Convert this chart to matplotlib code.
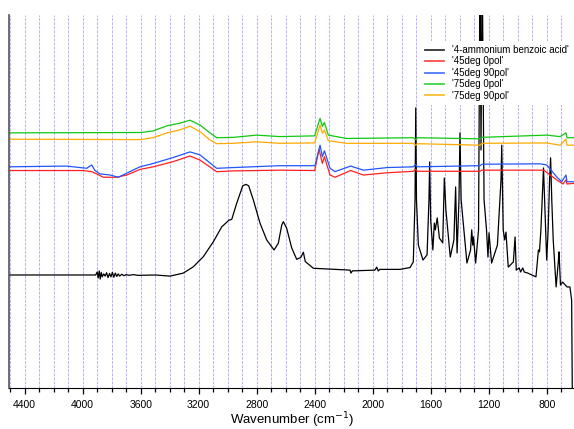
import numpy as np
import matplotlib
matplotlib.use("Agg")
import matplotlib.pyplot as plt
from matplotlib.ticker import MultipleLocator

plt.rcParams['font.family'] = ['Liberation Sans', 'DejaVu Sans']

# 4-ammonium benzoic acid reference spectrum (wavenumber, absorbance a.u.)
ref_wn = [4510, 3920, 3910, 3900, 3893, 3886, 3879, 3872, 3865, 3855, 3845, 3835,
          3825, 3815, 3805, 3795, 3785, 3775, 3765, 3755, 3745, 3730, 3715, 3700,
          3680, 3650, 3620, 3500, 3398, 3306, 3237, 3168, 3099, 3041, 2991, 2972,
          2938, 2896, 2874, 2855, 2823, 2777, 2731, 2680, 2651, 2627, 2616, 2593,
          2558, 2524, 2496, 2478, 2465, 2409, 2156, 2150, 2140, 1985, 1972, 1962,
          1950, 1812, 1742, 1720, 1708, 1703, 1698, 1685, 1653, 1625, 1612, 1607,
          1600, 1585, 1575, 1568, 1555, 1540, 1517, 1506, 1495, 1465, 1440, 1428,
          1418, 1405, 1398, 1390, 1350, 1325, 1317, 1310, 1305, 1290, 1270, 1260,
          1253, 1245, 1232, 1215, 1205, 1198, 1180, 1140, 1115, 1110, 1100, 1090,
          1081, 1065, 1030, 1018, 1010, 990, 980, 965, 955, 930, 874, 857, 850,
          840, 822, 812, 800, 790, 780, 773, 765, 755, 735, 720, 715, 705, 690,
          660, 640, 628, 622, 600]
ref_abs = [0.303, 0.303, 0.303, 0.311, 0.295, 0.314, 0.292, 0.310, 0.298, 0.306, 0.300, 0.309,
           0.296, 0.307, 0.298, 0.310, 0.297, 0.308, 0.299, 0.306, 0.300, 0.305, 0.301, 0.304,
           0.302, 0.304, 0.302, 0.303, 0.300, 0.308, 0.325, 0.352, 0.392, 0.432, 0.450, 0.452,
           0.495, 0.542, 0.546, 0.542, 0.504, 0.442, 0.397, 0.370, 0.388, 0.437, 0.446, 0.428,
           0.375, 0.345, 0.350, 0.364, 0.339, 0.321, 0.316, 0.308, 0.314, 0.316, 0.324, 0.314,
           0.318, 0.318, 0.323, 0.338, 0.504, 0.751, 0.504, 0.383, 0.343, 0.357, 0.504, 0.606,
           0.450, 0.370, 0.442, 0.424, 0.456, 0.402, 0.389, 0.563, 0.477, 0.351, 0.397, 0.539,
           0.362, 0.504, 0.684, 0.504, 0.335, 0.370, 0.424, 0.383, 0.405, 0.335, 0.424, 1.15,
           0.638, 1.15, 0.504, 0.424, 0.351, 0.416, 0.335, 0.383, 0.558, 0.651, 0.424, 0.397,
           0.418, 0.324, 0.338, 0.405, 0.316, 0.322, 0.311, 0.322, 0.311, 0.308, 0.298, 0.370, 0.365,
           0.424, 0.590, 0.477, 0.343, 0.424, 0.558, 0.617, 0.504, 0.397, 0.271, 0.338, 0.365, 0.276, 0.284,
           0.271, 0.271, 0.236, -0.09, -0.2]

# polarised film spectra, offset for display
wn_45_0 = [4510, 3996, 3938, 3903, 3858, 3765, 3696, 3605, 3513, 3375, 3260, 3191, 3076,
           2960, 2640, 2400, 2370, 2347, 2333, 2294, 2260, 2152, 2064, 1900, 1720, 1705,
           1690, 1260, 1245, 820, 731, 687, 667, 660, 600]
abs_45_0 = [0.583, 0.583, 0.580, 0.574, 0.565, 0.565, 0.571, 0.586, 0.593, 0.607, 0.622, 0.611, 0.580,
            0.582, 0.584, 0.583, 0.640, 0.602, 0.620, 0.571, 0.565, 0.583, 0.571, 0.577, 0.581, 0.586,
            0.581, 0.581, 0.584, 0.584, 0.558, 0.547, 0.558, 0.547, 0.549]

wn_45_90 = [4510, 4110, 3972, 3938, 3915, 3880, 3811, 3754, 3696, 3605, 3513, 3375, 3260,
            3191, 3076, 2960, 2640, 2398, 2363, 2347, 2333, 2294, 2260, 2152, 2064, 1900,
            1720, 1705, 1690, 1260, 1245, 846, 800, 731, 697, 667, 660, 600]
abs_45_90 = [0.593, 0.595, 0.589, 0.598, 0.583, 0.574, 0.571, 0.565, 0.576, 0.593, 0.602, 0.618, 0.633,
             0.625, 0.589, 0.591, 0.596, 0.596, 0.651, 0.620, 0.636, 0.589, 0.580, 0.595, 0.584, 0.591,
             0.593, 0.599, 0.593, 0.596, 0.600, 0.601, 0.598, 0.566, 0.553, 0.571, 0.553, 0.553]

wn_75 = [4510, 3600, 3515, 3418, 3329, 3260, 3191, 3122, 3076, 2960, 2800, 2640, 2400,
         2363, 2347, 2333, 2306, 2180, 1720, 1703, 1690, 1260, 1245, 800, 708, 667, 660, 600]
abs_75_0 = [0.684, 0.685, 0.689, 0.703, 0.710, 0.718, 0.705, 0.684, 0.671, 0.672, 0.678, 0.674, 0.676,
            0.723, 0.701, 0.712, 0.678, 0.669, 0.671, 0.666, 0.671, 0.668, 0.672, 0.678, 0.674, 0.684,
            0.671, 0.671]
abs_75_90 = [0.667, 0.666, 0.671, 0.684, 0.692, 0.702, 0.687, 0.665, 0.655, 0.656, 0.660, 0.656, 0.657,
             0.705, 0.683, 0.692, 0.663, 0.656, 0.656, 0.651, 0.655, 0.651, 0.656, 0.657, 0.651, 0.667,
             0.651, 0.651]

fig = plt.figure(figsize=(5.74, 4.29), dpi=100)
ax = fig.add_axes([9 / 574, 41 / 429, 566.7 / 574, 373 / 429])

# gridlines every 100 cm-1 drawn behind the traces
for g in range(700, 4600, 100):
    ax.axvline(g, color='#9a9aff', lw=0.7, ls=(0, (3, 1.2)), alpha=0.75, zorder=0)

ax.plot(ref_wn, ref_abs, color='black', lw=0.9, label="'4-ammonium benzoic acid'")
ax.plot(wn_45_0, abs_45_0, color='#ff2020', lw=0.9, label="'45deg 0pol'")
ax.plot(wn_45_90, abs_45_90, color='#2255ff', lw=0.9, label="'45deg 90pol'")
ax.plot(wn_75, abs_75_0, color='#10c810', lw=0.9, label="'75deg 0pol'")
ax.plot(wn_75, abs_75_90, color='#ffaa00', lw=0.9, label="'75deg 90pol'")

ax.set_xlim(4508, 600)
ax.set_ylim(0, 1)
ax.xaxis.set_major_locator(MultipleLocator(400))
ax.xaxis.set_minor_locator(MultipleLocator(100))
ax.tick_params(axis='x', which='major', length=4, width=0.9, labelsize=7.5, pad=5)
ax.tick_params(axis='x', which='minor', length=3, width=0.9)
ax.set_yticks([])
ax.spines['top'].set_visible(False)
ax.spines['right'].set_visible(False)
ax.spines['left'].set_color('#555555')
ax.spines['left'].set_linewidth(1.2)
ax.set_xlabel('Wavenumber (cm$^{-1}$)', fontsize=9.5, labelpad=0)

leg = ax.legend(loc='upper left', bbox_to_anchor=(0.727, 0.93), fontsize=7.0,
                frameon=True, fancybox=False, edgecolor='none', facecolor='white',
                framealpha=1, handlelength=2.0, handletextpad=0.8, labelspacing=0.15,
                borderpad=0.4, borderaxespad=0)
for h in leg.get_lines():
    h.set_linewidth(1.3)
    h.set_alpha(0.8)

fig.savefig('out.png', dpi=100)
